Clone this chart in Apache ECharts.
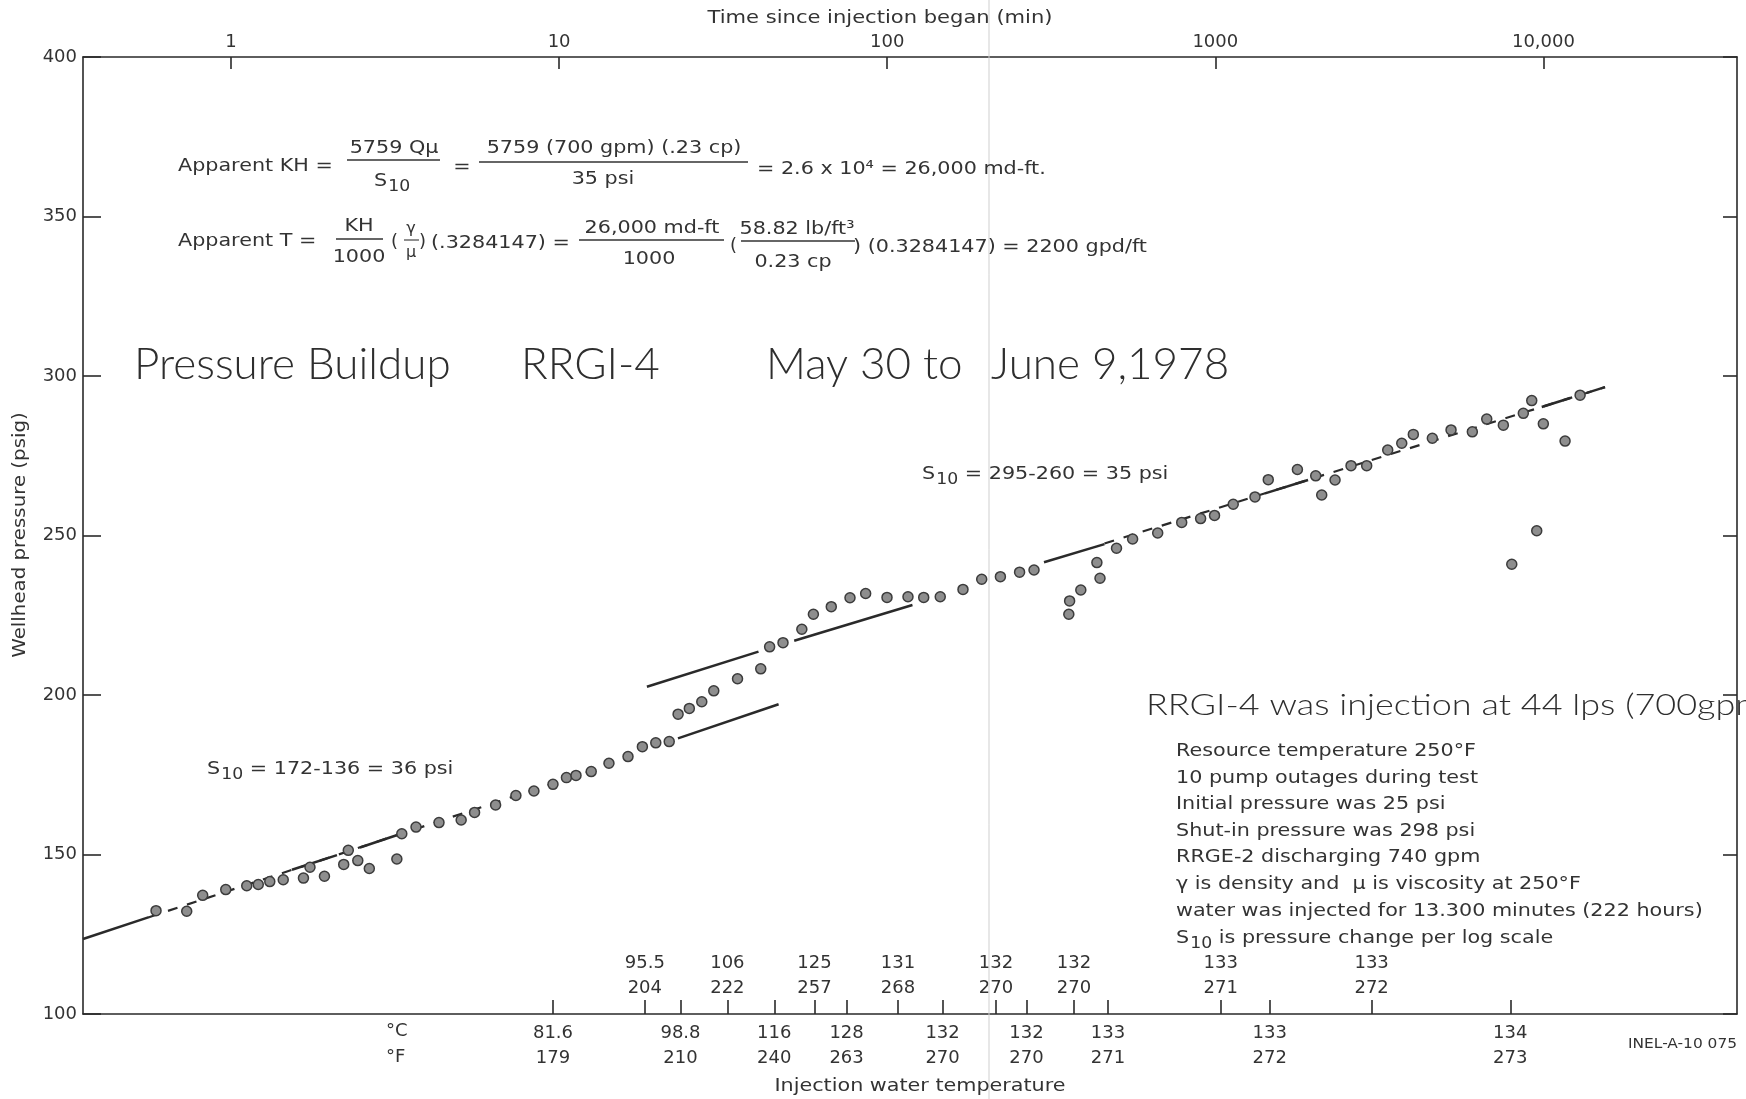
<!DOCTYPE html>
<html><head><meta charset="utf-8">
<script src="https://cdn.jsdelivr.net/npm/echarts@6/dist/echarts.min.js"></script>
<style>html,body{margin:0;padding:0;background:#fff}#c{width:1746px;height:1099px}</style>
</head><body><div id="c"></div><script>
// ---- data ----
const timeMin = [0.591,0.733,0.820,0.964,1.117,1.211,1.313,1.443,1.663,1.741,1.927,2.206,2.278,2.435,2.640,3.203,3.316,3.664,4.305,5.030,5.526,6.405,7.385,8.381,9.58,10.53,11.26,12.53,14.19,16.22,17.94,19.71,21.66,23.05,24.94,27.22,29.61,34.98,41.17,43.82,48.13,54.93,59.57,67.54,77.02,85.97,99.86,115.7,129.2,145.1,170.2,194.1,221.3,253.2,280.2,357.7,359.7,389.1,435.6,445.2,499.9,559.7,667.4,789.9,902.0,994.5,1134,1321,1450,1779,2023,2110,2317,2592,2893,3353,3700,4013,4586,5229,6072,6718,7548,8684,9213,9993,11640,12934,8008,9541];
const pressurePsig = [132.4,132.2,137.2,139.0,140.2,140.6,141.5,142.1,142.6,146.0,143.2,146.9,151.3,148.1,145.6,148.6,156.5,158.6,160.0,160.8,163.2,165.5,168.5,169.9,172.0,174.1,174.8,176.0,178.6,180.7,183.8,185.0,185.4,194.0,195.8,197.9,201.3,205.1,208.2,215.1,216.4,220.6,225.3,227.7,230.5,231.8,230.6,230.8,230.6,230.8,233.1,236.3,237.1,238.5,239.2,225.3,229.5,232.9,241.5,236.6,246.0,248.9,250.8,254.1,255.3,256.3,259.8,262.1,267.5,270.7,268.7,262.7,267.4,271.9,271.9,276.8,278.9,281.7,280.5,283.1,282.5,286.5,284.6,288.3,292.3,285.0,279.6,294.0,241.0,251.5];

// fitted straight lines (time, pressure) endpoints
const fitSolid = [
  [[0.354,123.5],[0.5625,130.35]],
  [[1.534,145.2],[2.104,149.8]],
  [[2.473,152.2],[3.368,156.8]],
  [[18.52,202.6],[40.52,213.6]],
  [[23.03,186.4],[46.67,197.1]],
  [[52.07,217.0],[119.4,228.2]],
  [[300.5,241.6],[459.4,247.3]],
  [[1418,263.2],[1917,267.4]],
  [[9881,290.3],[12069,293.1]],
  [[13552,294.7],[15405,296.5]]
];
const fitDashed = [
  [[0.5625,130.35],[13.3,177.1]],
  [[459.4,247.5],[15405,296.5]]
];

const timeAxisMin = 0.354, timeAxisMax = 38900;
const timeTicks = [1,10,100,1000,10000];
const timeTickLabels = ['1','10','100','1000','10,000'];
const pressureMin = 100, pressureMax = 400, pressureStep = 50;

// injection water temperature axis (bottom)
const tempTickTimes = [9.58,18.25,23.44,32.58,45.28,60.02,75.20,107.9,147.5,214.6,265.8,371.0,470.9,1038.5,1465,2995,7925];
const tempC = ['81.6','95.5','98.8','106','116','125','128','131','132','132','132','132','133','133','133','133','134'];
const tempF = ['179','204','210','222','240','257','263','268','270','270','270','270','271','271','272','272','273'];
const tempAbove = [false,true,false,true,false,true,false,true,false,true,false,true,false,true,false,true,false];

function nearest(arr, v){
  let bi=0, bd=Infinity;
  arr.forEach((a,i)=>{const d=Math.abs(Math.log10(a)-Math.log10(v)); if(d<bd){bd=d;bi=i;}});
  return bi;
}
const tempFmt = v => { const i = nearest(tempTickTimes, v); return tempC[i] + '\n' + tempF[i]; };

const INK = '#2a2a2a', TXT = '#333';
const FF = 'DejaVu Sans';
const lab = {fontSize:18, fontFamily:FF, color:TXT};

const series = [];
fitSolid.forEach(seg => series.push({type:'line', data:seg, symbol:'none', silent:true, z:1,
  lineStyle:{color:INK, width:2.5}}));
fitDashed.forEach(seg => series.push({type:'line', data:seg, symbol:'none', silent:true, z:1,
  lineStyle:{color:INK, width:2.2, type:[10,10]}}));
series.push({type:'scatter', data: timeMin.map((t,i)=>[t, pressurePsig[i]]), symbol:'circle', symbolSize:10, z:3,
  itemStyle:{color:'#8e8e8e', borderColor:'#3c3c3c', borderWidth:1.5, opacity:1}});

// ---- text helpers ----
const subRich = {s:{fontSize:18, fontFamily:FF, fill:TXT}, sub:{fontSize:15, fontFamily:FF, fill:TXT, padding:[12,0,0,1]}, n:{fontSize:18, fontFamily:FF, fill:TXT}};
function T(x, y, text, o){
  o = o || {};
  return {type:'text', x:x, y:y, scaleX:(o.sx===undefined?1.15:o.sx), rotation:o.rot||0, z:10, silent:true,
    style:{text:text, fill:o.fill||TXT, fontSize:o.fs||18, fontFamily:o.ff||FF, fontWeight:o.fw||'normal',
      align:o.align||'left', verticalAlign:'middle', rich:o.rich}};
}
function L(x1,y1,x2,y2,w,c){
  return {type:'line', z:10, silent:true, shape:{x1:x1,y1:y1,x2:x2,y2:y2}, style:{stroke:c||TXT, lineWidth:w||1.3}};
}
const HW = {ff:'Lato', fw:300, fs:44, sx:1, fill:'#2e2e2e'};

const graphic = [
  L(989,0,989,1099,1,'#cfcfcf'),
  T(880,18,'Time since injection began (min)',{align:'center', sx:1.17}),
  T(20,535,'Wellhead pressure (psig)',{align:'center', rot:Math.PI/2, sx:1.1}),
  // formula 1
  T(178,166,'Apparent KH =',{}),
  T(394,148,'5759 Qμ',{align:'center'}),
  L(347,160,440,160),
  T(392,181,'{s|S}{sub|10}',{align:'center', rich:subRich}),
  T(462,167,'=',{align:'center'}),
  T(614,148,'5759 (700 gpm) (.23 cp)',{align:'center'}),
  L(479,162,748,162),
  T(603,179,'35 psi',{align:'center'}),
  T(757,169,'= 2.6 x 10⁴ = 26,000 md-ft.',{}),
  // formula 2
  T(178,241,'Apparent T =',{}),
  T(359,226,'KH',{align:'center'}),
  L(336,239,383,239),
  T(359,257,'1000',{align:'center'}),
  T(391,242,'(',{sx:1}),
  T(411,229,'γ',{align:'center', fs:16, sx:1}),
  L(404,240,419,240,1.1),
  T(411,253,'μ',{align:'center', fs:16, sx:1}),
  T(419,242,')',{sx:1}),
  T(431,243,'(.3284147) =',{}),
  T(652,228,'26,000 md-ft',{align:'center'}),
  L(579,240,724,240),
  T(649,259,'1000',{align:'center'}),
  T(730,246,'(',{sx:1}),
  T(797,229,'58.82 lb/ft³',{align:'center'}),
  L(741,241,855,241),
  T(793,262,'0.23 cp',{align:'center'}),
  T(853,247,') (0.3284147) = 2200 gpd/ft',{}),
  // handwritten title
  T(134,365,'Pressure Buildup',HW),
  T(521,365,'RRGI-4',HW),
  T(766,365,'May 30 to',HW),
  T(991,365,'June 9,1978',HW),
  T(1146,705,'RRGI-4 was injection at 44 lps (700gpm)',{ff:'Lato', fw:300, fs:30, sx:1.2, fill:'#2e2e2e'}),
  // slope notes
  T(922,474,'{s|S}{sub|10}{n| = 295-260 = 35 psi}',{rich:subRich}),
  T(207,769,'{s|S}{sub|10}{n| = 172-136 = 36 psi}',{rich:subRich}),
  // notes block
  T(1176,751,'Resource temperature 250°F',{}),
  T(1176,778,'10 pump outages during test',{}),
  T(1176,804,'Initial pressure was 25 psi',{}),
  T(1176,831,'Shut-in pressure was 298 psi',{}),
  T(1176,857,'RRGE-2 discharging 740 gpm',{}),
  T(1176,884,'γ is density and  μ is viscosity at 250°F',{}),
  T(1176,911,'water was injected for 13.300 minutes (222 hours)',{}),
  T(1176,938,'{s|S}{sub|10}{n| is pressure change per log scale}',{rich:subRich}),
  // bottom axis texts
  T(386,1031,'°C',{sx:1}),
  T(386,1057,'°F',{sx:1}),
  T(920,1086,'Injection water temperature',{align:'center', sx:1.15}),
  T(1737,1044,'INEL-A-10 075',{align:'right', fs:14, sx:1.1})
];

const axisLineStyle = {color:INK, width:1.6};
const option = {
  animation:false,
  backgroundColor:'#ffffff',
  grid:{left:83, right:9, top:57, bottom:85, outerBoundsMode:'none', containLabel:false},
  xAxis:[
    {type:'log', logBase:10, position:'top', min:timeAxisMin, max:timeAxisMax,
      axisLine:{show:true, lineStyle:axisLineStyle},
      axisTick:{show:true, inside:true, length:12, customValues:timeTicks, lineStyle:axisLineStyle},
      axisLabel:Object.assign({customValues:timeTicks, margin:6, formatter:v=>timeTickLabels[nearest(timeTicks,v)]}, lab),
      splitLine:{show:false}, minorTick:{show:false}, minorSplitLine:{show:false}},
    {type:'log', logBase:10, position:'bottom', min:timeAxisMin, max:timeAxisMax,
      axisLine:{show:true, lineStyle:axisLineStyle},
      axisTick:{show:true, inside:true, length:14, customValues:tempTickTimes, lineStyle:axisLineStyle},
      axisLabel:Object.assign({inside:true, customValues:tempTickTimes.filter((t,i)=>tempAbove[i]), margin:13, lineHeight:25, formatter:tempFmt}, lab),
      splitLine:{show:false}, minorTick:{show:false}},
    {type:'log', logBase:10, position:'bottom', min:timeAxisMin, max:timeAxisMax,
      axisLine:{show:false}, axisTick:{show:false},
      axisLabel:Object.assign({customValues:tempTickTimes.filter((t,i)=>!tempAbove[i]), margin:7, lineHeight:25, formatter:tempFmt}, lab),
      splitLine:{show:false}, minorTick:{show:false}}
  ],
  yAxis:[
    {type:'value', position:'left', min:pressureMin, max:pressureMax, interval:pressureStep,
      axisLine:{show:true, lineStyle:axisLineStyle},
      axisTick:{show:true, inside:true, length:18, lineStyle:axisLineStyle},
      axisLabel:Object.assign({margin:6}, lab), splitLine:{show:false}},
    {type:'value', position:'right', min:pressureMin, max:pressureMax, interval:pressureStep,
      axisLine:{show:true, lineStyle:axisLineStyle},
      axisTick:{show:true, inside:true, length:14, lineStyle:axisLineStyle},
      axisLabel:{show:false}, splitLine:{show:false}}
  ],
  series: series,
  graphic: graphic
};
const chart = echarts.init(document.getElementById('c'), null, {renderer:'canvas'});
chart.setOption(option);
</script></body></html>
